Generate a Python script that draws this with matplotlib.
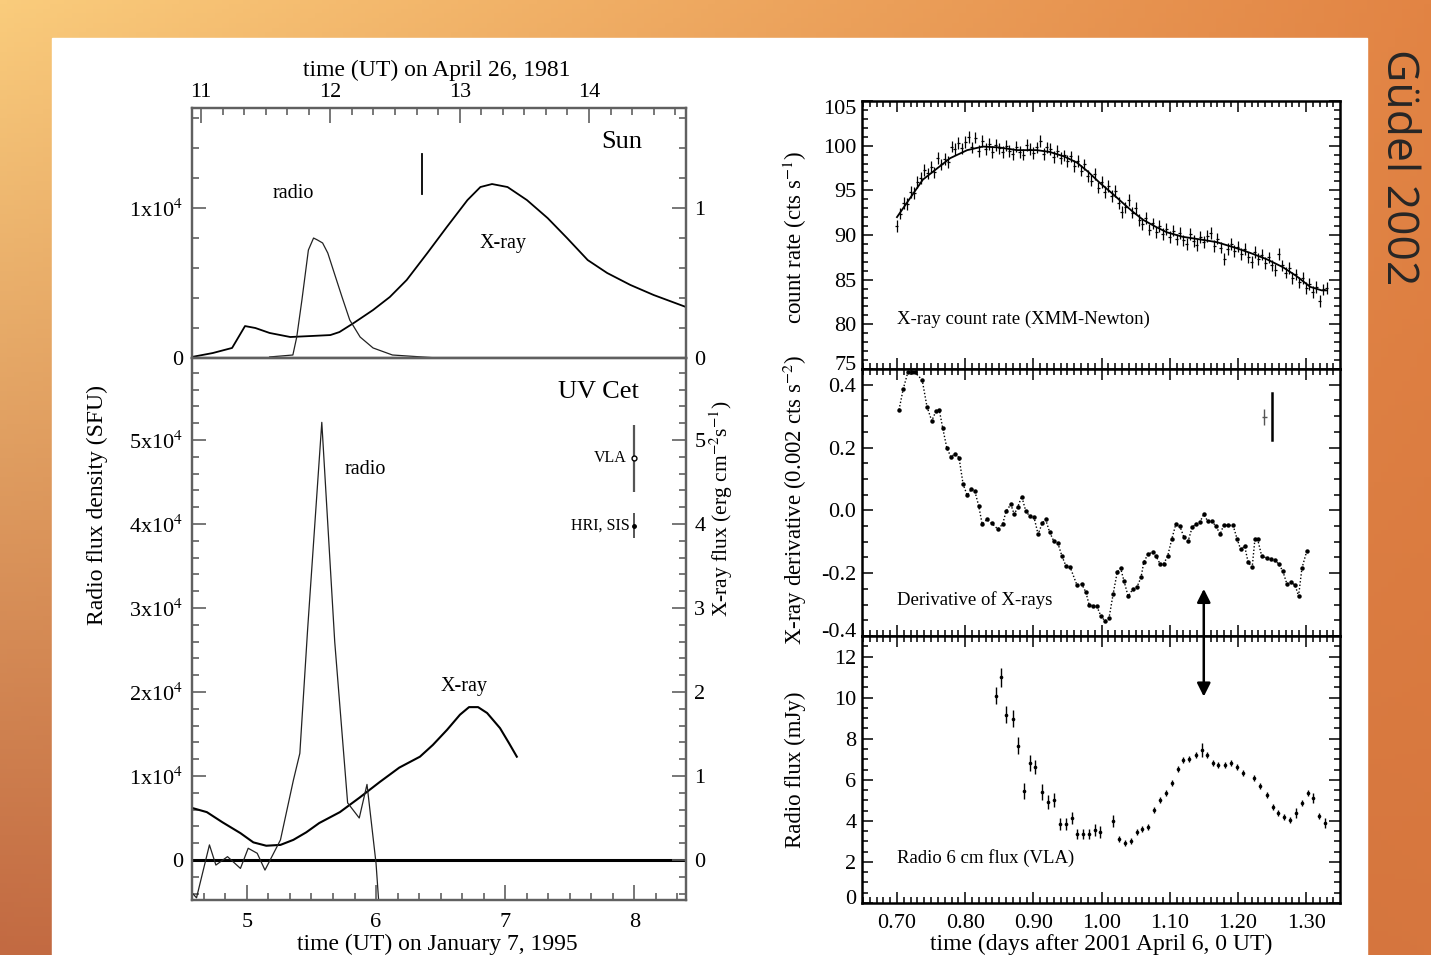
import numpy as np
import matplotlib
matplotlib.use("Agg")
import matplotlib.pyplot as plt
from matplotlib.patches import Rectangle, ConnectionPatch
from matplotlib.ticker import MultipleLocator
from matplotlib.transforms import ScaledTranslation

plt.rcParams['font.family'] = ['Liberation Serif', 'DejaVu Serif']
plt.rcParams['mathtext.fontset'] = 'stix'
plt.rcParams['axes.unicode_minus'] = False

# ---- data: Sun, April 26 1981 (hours UT; flux in 1e4 SFU / X-ray units) ----
sun_xray_t = [10.93, 11.09, 11.24, 11.29, 11.34, 11.42, 11.53, 11.69, 11.86, 12.00,
              12.07, 12.18, 12.33, 12.46, 12.59, 12.75, 12.90, 13.06, 13.16, 13.25,
              13.37, 13.52, 13.68, 13.83, 13.99, 14.14, 14.32, 14.50, 14.75]
sun_xray_f = [0.007, 0.033, 0.067, 0.14, 0.213, 0.20, 0.167, 0.14, 0.147, 0.153,
              0.173, 0.233, 0.32, 0.407, 0.52, 0.70, 0.873, 1.053, 1.14, 1.16,
              1.14, 1.053, 0.933, 0.80, 0.653, 0.567, 0.487, 0.42, 0.34]
sun_radio_t = [11.53, 11.71, 11.74, 11.78, 11.83, 11.87, 11.90, 11.94, 11.98, 12.04,
               12.09, 12.15, 12.23, 12.33, 12.48, 12.83]
sun_radio_f = [0.007, 0.02, 0.14, 0.387, 0.72, 0.80, 0.787, 0.767, 0.70, 0.54,
               0.407, 0.253, 0.14, 0.067, 0.02, 0.0]

# ---- data: UV Cet, January 7 1995 ----
uv_xray_t = [4.575, 4.69, 4.81, 4.95, 5.05, 5.15, 5.26, 5.36, 5.46, 5.56, 5.72, 5.87,
             6.03, 6.18, 6.34, 6.44, 6.55, 6.65, 6.72, 6.79, 6.86, 6.96, 7.03, 7.09]
uv_xray_f = [0.62, 0.57, 0.45, 0.32, 0.21, 0.17, 0.18, 0.24, 0.33, 0.44, 0.57, 0.74,
             0.93, 1.10, 1.23, 1.37, 1.55, 1.73, 1.82, 1.82, 1.75, 1.57, 1.39, 1.23]
uv_radio_t = [4.575, 4.61, 4.71, 4.76, 4.85, 4.95, 5.01, 5.08, 5.14, 5.26, 5.36, 5.41,
              5.47, 5.58, 5.68, 5.78, 5.87, 5.93, 6.00, 6.02]
uv_radio_f = [-0.39, -0.45, 0.18, -0.06, 0.04, -0.10, 0.14, 0.08, -0.12, 0.24, 0.95, 1.27,
              2.74, 5.21, 2.60, 0.68, 0.50, 0.90, -0.04, -0.48]

# ---- data: XMM-Newton count rate (bins of 0.005 d from 0.700) ----
cr_t0, cr_dt = 0.700, 0.005
cr_rate = [91.0, 92.4, 93.6, 93.5, 94.8, 94.7, 95.9, 96.4, 97.3, 96.9,
           97.6, 97.0, 98.6, 97.9, 98.5, 98.2, 99.9, 99.6, 100.3, 99.7,
           100.4, 101.0, 99.8, 100.9, 99.4, 100.5, 99.6, 100.2, 99.3, 100.1,
           99.7, 99.3, 100.0, 99.4, 99.1, 99.9, 99.3, 99.0, 100.1, 99.6,
           99.2, 99.8, 100.5, 99.1, 99.8, 99.6, 98.7, 99.4, 98.6, 98.9,
           98.3, 98.8, 97.7, 98.3, 97.2, 97.9, 96.6, 96.1, 96.8, 95.3,
           95.9, 94.8, 95.5, 94.4, 94.9, 93.6, 92.6, 93.1, 93.9, 92.5,
           93.0, 91.7, 91.2, 91.9, 90.6, 91.3, 90.3, 91.0, 90.1, 90.7,
           89.8, 90.5, 89.5, 90.2, 89.4, 89.0, 90.1, 89.3, 88.9, 89.8,
           89.2, 89.9, 90.2, 88.8, 89.6, 88.6, 87.3, 88.4, 89.0, 88.2,
           88.7, 87.9, 88.4, 87.5, 87.0, 88.1, 87.3, 87.8, 86.9, 87.5,
           86.6, 86.1, 87.9, 86.6, 85.8, 86.3, 85.2, 85.6, 84.7, 85.2,
           84.1, 84.5, 83.6, 84.2, 82.6, 83.9, 84.1]
cr_t = cr_t0 + cr_dt * np.arange(len(cr_rate))
cr_err = 0.65
fit_t = [0.700, 0.738, 0.778, 0.803, 0.826, 0.850, 0.876, 0.905, 0.924, 0.945, 0.964,
         0.980, 0.998, 1.015, 1.031, 1.046, 1.061, 1.080, 1.096, 1.119, 1.145, 1.169,
         1.195, 1.218, 1.242, 1.266, 1.286, 1.306, 1.323, 1.330]
fit_rate = [92.0, 96.2, 98.6, 99.5, 99.9, 99.8, 99.5, 99.5, 99.3, 98.8, 98.1,
            97.1, 95.8, 94.7, 93.6, 92.6, 91.7, 90.9, 90.3, 89.8, 89.5, 89.2,
            88.6, 88.0, 87.3, 86.4, 85.4, 84.2, 83.8, 83.8]

# ---- data: derivative of X-rays ----
dv_t = [0.703, 0.709, 0.716, 0.722, 0.726, 0.737, 0.744, 0.751, 0.757, 0.762,
        0.767, 0.773, 0.779, 0.785, 0.791, 0.797, 0.803, 0.809, 0.814, 0.820,
        0.825, 0.832, 0.839, 0.848, 0.855, 0.860, 0.867, 0.872, 0.877, 0.883,
        0.889, 0.895, 0.901, 0.907, 0.913, 0.918, 0.924, 0.930, 0.936, 0.942,
        0.948, 0.954, 0.964, 0.971, 0.977, 0.982, 0.987, 0.993, 0.999, 1.005,
        1.011, 1.017, 1.023, 1.028, 1.033, 1.039, 1.046, 1.052, 1.058, 1.062,
        1.068, 1.075, 1.080, 1.086, 1.091, 1.097, 1.103, 1.109, 1.115, 1.121,
        1.127, 1.133, 1.138, 1.144, 1.150, 1.156, 1.162, 1.168, 1.174, 1.179,
        1.185, 1.193, 1.199, 1.204, 1.210, 1.215, 1.221, 1.225, 1.229, 1.235,
        1.243, 1.248, 1.254, 1.260, 1.266, 1.272, 1.278, 1.284, 1.289, 1.294,
        1.301]
dv_val = [0.320, 0.385, 0.440, 0.440, 0.440, 0.415, 0.330, 0.285, 0.315, 0.320,
          0.263, 0.200, 0.170, 0.180, 0.168, 0.083, 0.048, 0.067, 0.063, 0.013,
          -0.044, -0.029, -0.041, -0.060, -0.044, -0.003, 0.019, -0.013, 0.010, 0.044,
          -0.003, -0.019, -0.022, -0.076, -0.041, -0.029, -0.070, -0.098, -0.105, -0.146,
          -0.178, -0.181, -0.238, -0.235, -0.260, -0.302, -0.305, -0.305, -0.336, -0.352,
          -0.343, -0.267, -0.197, -0.184, -0.225, -0.273, -0.251, -0.244, -0.213, -0.165,
          -0.140, -0.133, -0.146, -0.171, -0.171, -0.146, -0.092, -0.044, -0.051, -0.086,
          -0.098, -0.054, -0.044, -0.038, -0.013, -0.035, -0.035, -0.051, -0.076, -0.048,
          -0.048, -0.048, -0.092, -0.124, -0.114, -0.165, -0.181, -0.092, -0.092, -0.146,
          -0.152, -0.156, -0.159, -0.171, -0.194, -0.235, -0.229, -0.238, -0.273, -0.184,
          -0.130]

# ---- data: VLA 6 cm radio flux (mJy) ----
rf_t = [0.845, 0.852, 0.860, 0.870, 0.877, 0.886, 0.895, 0.902, 0.913, 0.921,
        0.930, 0.939, 0.948, 0.957, 0.964, 0.973, 0.982, 0.990, 0.998, 1.017,
        1.026, 1.034, 1.043, 1.052, 1.059, 1.068, 1.077, 1.086, 1.095, 1.103,
        1.112, 1.119, 1.128, 1.138, 1.147, 1.155, 1.163, 1.171, 1.181, 1.190,
        1.199, 1.207, 1.223, 1.232, 1.243, 1.251, 1.259, 1.267, 1.276, 1.285,
        1.294, 1.303, 1.310, 1.319, 1.328]
rf_flux = [10.10, 10.98, 9.17, 8.98, 7.66, 5.46, 6.83, 6.63, 5.41, 4.93,
           5.02, 3.85, 3.85, 4.15, 3.37, 3.37, 3.37, 3.56, 3.46, 4.00,
           3.12, 2.93, 3.02, 3.46, 3.61, 3.71, 4.54, 5.02, 5.37, 5.85,
           6.54, 6.98, 7.02, 7.22, 7.46, 7.22, 6.83, 6.73, 6.73, 6.83,
           6.63, 6.34, 6.10, 5.71, 5.27, 4.68, 4.39, 4.20, 4.05, 4.39,
           4.88, 5.37, 5.12, 4.24, 3.90]
rf_err = [0.40, 0.45, 0.40, 0.40, 0.40, 0.40, 0.40, 0.35, 0.40, 0.35,
          0.35, 0.30, 0.30, 0.30, 0.25, 0.25, 0.25, 0.30, 0.30, 0.30,
          0.15, 0.15, 0.15, 0.15, 0.15, 0.15, 0.15, 0.15, 0.15, 0.15,
          0.15, 0.15, 0.15, 0.15, 0.35, 0.15, 0.15, 0.15, 0.15, 0.15,
          0.15, 0.15, 0.15, 0.15, 0.15, 0.15, 0.15, 0.15, 0.15, 0.25,
          0.15, 0.15, 0.25, 0.15, 0.25]

W, H = 1431, 955
fig = plt.figure(figsize=(W / 100, H / 100), dpi=100)


def fx(px):
    return px / W


def fy(py):
    return 1 - py / H


# background: orange gradient with white slide area
bg = fig.add_axes([0, 0, 1, 1], zorder=-10)
gx, gy = np.meshgrid(np.linspace(0, 1, 200), np.linspace(0, 1, 200))
gx, gy = gx[..., None], gy[..., None]
c_tl = np.array([250, 204, 124])
c_tr = np.array([226, 132, 68])
c_bl = np.array([194, 106, 66])
c_br = np.array([214, 118, 62])
img = (c_tl * (1 - gx) * (1 - gy) + c_tr * gx * (1 - gy)
       + c_bl * (1 - gx) * gy + c_br * gx * gy) / 255.0
bg.imshow(img, extent=[0, 1, 0, 1], aspect='auto', origin='upper')
bg.add_patch(Rectangle((fx(52), 0), fx(1367) - fx(52), fy(38), color='white'))
bg.set_xlim(0, 1)
bg.set_ylim(0, 1)
bg.axis('off')

fig.text(fx(1398), fy(167), 'Güdel 2002', rotation=-90, ha='center', va='center',
         fontsize=32, family=['Open Sans', 'DejaVu Sans'], color='#262626')

# ---------------- left: Sun / UV Cet ----------------
frame_col = '#606060'
left_w = fx(686) - fx(192)
ax_sun = fig.add_axes([fx(192), fy(358), left_w, fy(108) - fy(358)])
ax_uv = fig.add_axes([fx(192), fy(900), left_w, fy(358) - fy(900)])

ax_sun.plot(sun_xray_t, sun_xray_f, color='black', lw=1.3)
ax_sun.plot(sun_radio_t, sun_radio_f, color='#222222', lw=0.9)
ax_sun.plot([12.71, 12.71], [1.093, 1.36], color='black', lw=1.3)
ax_sun.set_xlim(10.93, 14.75)
ax_sun.set_ylim(0, 1.667)

ax_uv.axhline(0, color='black', lw=2.2)
ax_uv.plot(uv_xray_t, uv_xray_f, color='black', lw=1.5)
ax_uv.plot(uv_radio_t, uv_radio_f, color='#222222', lw=0.9)
ax_uv.errorbar([8.0], [4.79], yerr=[[0.41], [0.39]], fmt='o', ms=3.5, mfc='white',
               mec='black', ecolor='#555555', elinewidth=1.6, capsize=0)
ax_uv.errorbar([8.0], [3.98], yerr=[[0.15], [0.15]], fmt='o', ms=2.5, color='black',
               ecolor='#555555', elinewidth=1.4, capsize=0)
ax_uv.set_xlim(4.575, 8.40)
ax_uv.set_ylim(-0.476, 5.976)

for ax in (ax_sun, ax_uv):
    for sp in ax.spines.values():
        sp.set_color(frame_col)
        sp.set_linewidth(1.6)
    ax.xaxis.set_minor_locator(MultipleLocator(1 / 6))
    ax.yaxis.set_minor_locator(MultipleLocator(0.2))
    ax.tick_params(which='both', direction='in', color=frame_col, width=1.2,
                   labelsize=16, left=True, right=False)
    ax.tick_params(axis='y', which='major', length=10, pad=6)
    ax.tick_params(axis='y', which='minor', length=5)
    ax.tick_params(axis='x', which='major', length=11)
    ax.tick_params(axis='x', which='minor', length=5)

ax_sun.xaxis.tick_top()
ax_sun.set_xticks([11, 12, 13, 14])
ax_sun.tick_params(axis='x', which='both', top=True, bottom=False, labeltop=True,
                   labelbottom=False, pad=4)
ax_sun.set_yticks([0, 1])
ax_sun.set_yticklabels(['0', '1x10$^4$'])

ax_uv.set_xticks([5, 6, 7, 8])
ax_uv.tick_params(axis='x', which='both', top=False, bottom=True, pad=9)
ax_uv.set_yticks([0, 1, 2, 3, 4, 5])
ax_uv.set_yticklabels(['0', '1x10$^4$', '2x10$^4$', '3x10$^4$', '4x10$^4$', '5x10$^4$'])

# right-hand X-ray flux scales
for ax, ticks in ((ax_sun, [0, 1]), (ax_uv, [0, 1, 2, 3, 4, 5])):
    axr = ax.twinx()
    axr.set_ylim(ax.get_ylim())
    axr.set_yticks(ticks)
    axr.set_yticklabels([str(t) for t in ticks])
    axr.yaxis.set_minor_locator(MultipleLocator(0.2))
    axr.tick_params(axis='y', which='both', direction='in', color=frame_col, width=1.2,
                    labelsize=16, pad=6)
    axr.tick_params(axis='y', which='major', length=10)
    axr.tick_params(axis='y', which='minor', length=5)
    axr.tick_params(axis='x', which='both', top=False, bottom=False,
                    labeltop=False, labelbottom=False)
    for sp in axr.spines.values():
        sp.set_color(frame_col)
        sp.set_linewidth(1.6)

fig.text(fx(437), fy(70), 'time (UT) on April 26, 1981', ha='center', va='center', fontsize=17)
fig.text(fx(437), fy(944), 'time (UT) on January 7, 1995', ha='center', va='center', fontsize=17)
fig.text(fx(97), fy(505), 'Radio flux density (SFU)', rotation=90, ha='center', va='center',
         fontsize=17)
fig.text(fx(721), fy(509), 'X-ray flux (erg cm$^{-2}$s$^{-1}$)', rotation=90, ha='center',
         va='center', fontsize=15.5)
fig.text(fx(622), fy(142), 'Sun', ha='center', va='center', fontsize=19)
fig.text(fx(598), fy(392), 'UV Cet', ha='center', va='center', fontsize=19)
fig.text(fx(293), fy(193), 'radio', ha='center', va='center', fontsize=14.5)
fig.text(fx(503), fy(243), 'X-ray', ha='center', va='center', fontsize=14.5)
fig.text(fx(365), fy(469), 'radio', ha='center', va='center', fontsize=14.5)
fig.text(fx(464), fy(687), 'X-ray', ha='center', va='center', fontsize=14.5)
fig.text(fx(627), fy(458), 'VLA', ha='right', va='center', fontsize=11.5)
fig.text(fx(630), fy(526), 'HRI, SIS', ha='right', va='center', fontsize=11.5)

# ---------------- right: XMM / derivative / VLA ----------------
right_w = fx(1340) - fx(862)
ax_cr = fig.add_axes([fx(862), fy(369), right_w, fy(101) - fy(369)])
ax_dv = fig.add_axes([fx(862), fy(636), right_w, fy(369) - fy(636)])
ax_rf = fig.add_axes([fx(862), fy(903), right_w, fy(636) - fy(903)])

ax_cr.errorbar(cr_t, cr_rate, yerr=cr_err, xerr=0.0022, fmt='none', ecolor='black',
               elinewidth=0.9)
ax_cr.plot(fit_t, fit_rate, color='black', lw=1.3)
ax_cr.set_ylim(75, 105)
ax_cr.set_yticks(np.arange(75, 106, 5))
ax_cr.yaxis.set_minor_locator(MultipleLocator(1))

ax_dv.plot(dv_t, dv_val, color='black', ls=(0, (1, 1.5)), lw=1.0, marker='o', ms=2.2)
ax_dv.plot([1.250, 1.250], [0.225, 0.375], color='black', lw=1.8)
ax_dv.errorbar([1.239], [0.298], yerr=0.025, xerr=0.004, fmt='none', ecolor='#555555',
               elinewidth=1.0)
ax_dv.set_ylim(-0.40, 0.45)
ax_dv.set_yticks([-0.4, -0.2, 0.0, 0.2, 0.4])
ax_dv.set_yticklabels(['-0.4', '-0.2', '0.0', '0.2', '0.4'])
ax_dv.yaxis.set_minor_locator(MultipleLocator(0.05))

ax_rf.errorbar(rf_t, rf_flux, yerr=rf_err, fmt='o', ms=1.6, color='black',
               elinewidth=1.0, capsize=0)
ax_rf.set_ylim(0, 13)
ax_rf.set_yticks(np.arange(0, 13, 2))
ax_rf.yaxis.set_minor_locator(MultipleLocator(0.5))

for ax in (ax_cr, ax_dv, ax_rf):
    ax.set_xlim(0.6487, 1.3498)
    ax.set_xticks([0.70, 0.80, 0.90, 1.00, 1.10, 1.20, 1.30])
    ax.xaxis.set_minor_locator(MultipleLocator(0.01))
    ax.tick_params(which='both', direction='in', top=True, right=True, width=1.1,
                   labelsize=16, pad=4)
    ax.tick_params(which='major', length=8)
    ax.tick_params(which='minor', length=4)
    for sp in ax.spines.values():
        sp.set_linewidth(1.8)
ax_cr.tick_params(axis='x', labelbottom=False)
ax_dv.tick_params(axis='x', labelbottom=False)
ax_rf.set_xticklabels(['0.70', '0.80', '0.90', '1.00', '1.10', '1.20', '1.30'])
ax_rf.tick_params(axis='x', pad=8)

# nudge the edge labels inward so they do not collide
fig.canvas.draw()
up = ScaledTranslation(0, 6 / 100, fig.dpi_scale_trans)
down = ScaledTranslation(0, -6 / 100, fig.dpi_scale_trans)
labs = ax_cr.get_yticklabels()
labs[0].set_transform(labs[0].get_transform() + up)
labs[-1].set_transform(labs[-1].get_transform() + down)
labs = ax_dv.get_yticklabels()
labs[0].set_transform(labs[0].get_transform() + up)
labs = ax_rf.get_yticklabels()
labs[0].set_transform(labs[0].get_transform() + up)

# double arrow linking derivative maximum and radio maximum
arrow = ConnectionPatch(xyA=(1.150, -0.25), coordsA=ax_dv.transData,
                        xyB=(1.150, 10.05), coordsB=ax_rf.transData,
                        arrowstyle='<|-|>', mutation_scale=20, lw=1.8, color='black')
fig.add_artist(arrow)

fig.text(fx(897), fy(319), 'X-ray count rate (XMM-Newton)', ha='left', va='center', fontsize=13.5)
fig.text(fx(897), fy(600), 'Derivative of X-rays', ha='left', va='center', fontsize=13.5)
fig.text(fx(897), fy(858), 'Radio 6 cm flux (VLA)', ha='left', va='center', fontsize=13.5)
fig.text(fx(795), fy(237), 'count rate (cts s$^{-1}$)', rotation=90, ha='center', va='center',
         fontsize=16.5)
fig.text(fx(795), fy(500), 'X-ray derivative (0.002 cts s$^{-2}$)', rotation=90, ha='center',
         va='center', fontsize=16.5)
fig.text(fx(795), fy(770), 'Radio flux (mJy)', rotation=90, ha='center', va='center',
         fontsize=16.5)
fig.text(fx(1101), fy(944), 'time (days after 2001 April 6, 0 UT)', ha='center', va='center',
         fontsize=17)

fig.savefig('out.png', dpi=100)
